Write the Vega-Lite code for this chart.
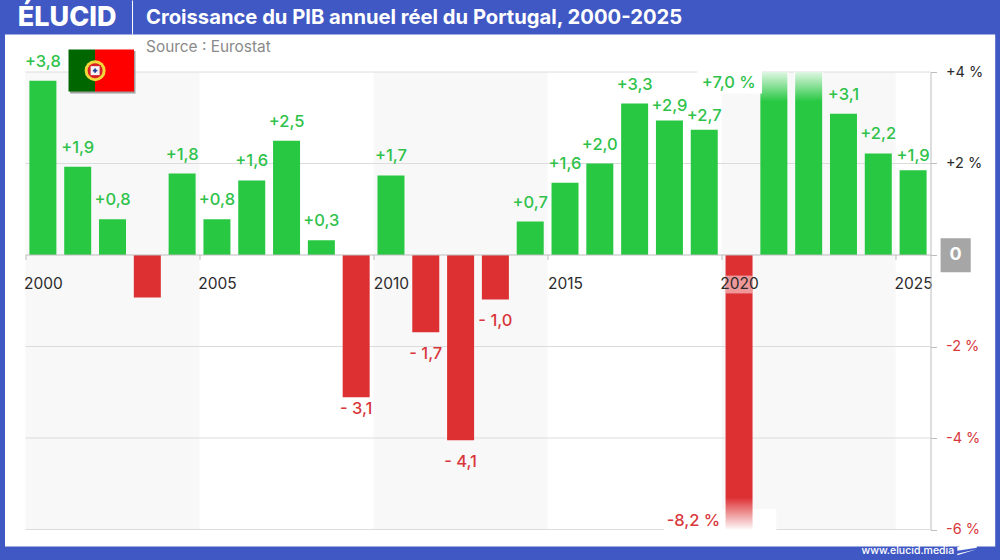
{
  "$schema": "https://vega.github.io/schema/vega-lite/v6.json",
  "description": "Croissance du PIB annuel reel du Portugal, 2000-2025",
  "width": 905,
  "height": 457.5,
  "autosize": "none",
  "padding": {"left": 25.5, "top": 72, "right": 69.5, "bottom": 30.5},
  "background": "#3f58c4",
  "resolve": {"axis": {"x": "independent", "y": "independent"}},
  "datasets": {
    "gdp": [
      {"year": 2000, "growth": 3.81, "label": "+3,8"},
      {"year": 2001, "growth": 1.93, "label": "+1,9"},
      {"year": 2002, "growth": 0.78, "label": "+0,8"},
      {"year": 2003, "growth": -0.93, "label": ""},
      {"year": 2004, "growth": 1.78, "label": "+1,8"},
      {"year": 2005, "growth": 0.78, "label": "+0,8"},
      {"year": 2006, "growth": 1.63, "label": "+1,6"},
      {"year": 2007, "growth": 2.5, "label": "+2,5"},
      {"year": 2008, "growth": 0.32, "label": "+0,3"},
      {"year": 2009, "growth": -3.11, "label": "- 3,1"},
      {"year": 2010, "growth": 1.74, "label": "+1,7"},
      {"year": 2011, "growth": -1.69, "label": "- 1,7"},
      {"year": 2012, "growth": -4.05, "label": "- 4,1"},
      {"year": 2013, "growth": -0.97, "label": "- 1,0"},
      {"year": 2014, "growth": 0.73, "label": "+0,7"},
      {"year": 2015, "growth": 1.58, "label": "+1,6"},
      {"year": 2016, "growth": 2.0, "label": "+2,0"},
      {"year": 2017, "growth": 3.31, "label": "+3,3"},
      {"year": 2018, "growth": 2.94, "label": "+2,9"},
      {"year": 2019, "growth": 2.74, "label": "+2,7"},
      {"year": 2020, "growth": -8.2, "label": ""},
      {"year": 2021, "growth": 5.6, "label": ""},
      {"year": 2022, "growth": 7.0, "label": ""},
      {"year": 2023, "growth": 3.09, "label": "+3,1"},
      {"year": 2024, "growth": 2.22, "label": "+2,2"},
      {"year": 2025, "growth": 1.85, "label": "+1,9"}
    ]
  },
  "layer": [
    {
      "data": {"values": [{"x0": 1999.411, "x1": 2027.859, "y0": -6.372, "y1": 4.82}]},
      "mark": {"type": "rect", "color": "white"},
      "encoding": {
        "x": {"field": "x0", "type": "quantitative", "scale": {"domain": [2000, 2026], "nice": false, "zero": false, "padding": 0}, "axis": null},
        "x2": {"field": "x1"},
        "y": {"field": "y0", "type": "quantitative", "scale": {"domain": [-6, 4], "nice": false, "zero": false, "padding": 0}, "axis": null},
        "y2": {"field": "y1"}
      }
    },
    {
      "data": {"values": [{"from": 2000, "to": 2005, "low": -6, "high": 4}, {"from": 2010, "to": 2015, "low": -6, "high": 4}, {"from": 2020, "to": 2025, "low": -6, "high": 4}]},
      "mark": {"type": "rect", "color": "#f8f8f8"},
      "encoding": {
        "x": {"field": "from", "type": "quantitative", "axis": null},
        "x2": {"field": "to"},
        "y": {"field": "low", "type": "quantitative", "axis": null},
        "y2": {"field": "high"}
      }
    },
    {
      "data": {"values": [{"tick": -6}, {"tick": -4}, {"tick": -2}, {"tick": 2}, {"tick": 4}]},
      "mark": {"type": "rule", "color": "#dcdcdc", "strokeWidth": 1},
      "encoding": {"y": {"field": "tick", "type": "quantitative", "axis": null}}
    },
    {
      "data": {"values": [{"x0": 2018.35, "x1": 2021.57, "y0": -6.05, "y1": -5.55}]},
      "mark": {"type": "rect", "color": "white"},
      "encoding": {
        "x": {"field": "x0", "type": "quantitative", "axis": null},
        "x2": {"field": "x1"},
        "y": {"field": "y0", "type": "quantitative", "axis": null},
        "y2": {"field": "y1"}
      }
    },
    {
      "data": {"name": "gdp"},
      "mark": {"type": "bar", "orient": "vertical", "width": 27, "xOffset": 17.4, "clip": true},
      "encoding": {
        "x": {
          "field": "year",
          "type": "quantitative",
          "axis": {
            "orient": "bottom",
            "offset": -275,
            "title": null,
            "grid": false,
            "values": [2000, 2005, 2010, 2015, 2020, 2025],
            "format": "d",
            "labelOffset": 17.4,
            "labelFlush": false,
            "labelOverlap": false,
            "labelPadding": 17,
            "labelFont": "Inter",
            "labelFontSize": 15.5,
            "labelColor": "#2b2b2b",
            "domainColor": "#bdbdbd",
            "tickColor": "#bdbdbd",
            "tickSize": 5,
            "zindex": 1
          }
        },
        "y": {
          "field": "growth",
          "type": "quantitative",
          "axis": {
            "orient": "right",
            "title": null,
            "grid": false,
            "values": [-6, -4, -2, 0, 2, 4],
            "labelExpr": "datum.value == 0 ? '' : (datum.value > 0 ? '+' : '') + datum.value + ' %'",
            "labelPadding": 9,
            "labelFlush": false,
            "labelOverlap": false,
            "labelFont": "Inter",
            "labelFontSize": 14.5,
            "labelColor": {"condition": {"test": "datum.value < 0", "value": "#d8383c"}, "value": "#2b2b2b"},
            "domainColor": "#bdbdbd",
            "tickColor": "#bdbdbd",
            "tickSize": 6,
            "zindex": 1
          }
        },
        "color": {"condition": {"test": "datum.growth < 0", "value": "#dd3033"}, "value": "#28c843"}
      }
    },
    {
      "data": {"values": [{"year": 2020, "low": -0.84, "high": -0.45}]},
      "mark": {"type": "bar", "orient": "vertical", "width": 27, "xOffset": 17.4, "color": "white", "opacity": 0.5},
      "encoding": {
        "x": {"field": "year", "type": "quantitative", "axis": null},
        "y": {"field": "low", "type": "quantitative", "axis": null},
        "y2": {"field": "high"}
      }
    },
    {
      "data": {"values": [{"year": 2021, "low": 3.355, "high": 4}, {"year": 2022, "low": 3.355, "high": 4}]},
      "mark": {
        "type": "bar",
        "orient": "vertical",
        "width": 29,
        "xOffset": 17.4,
        "color": {"gradient": "linear", "x1": 0, "y1": 0, "x2": 0, "y2": 1, "stops": [{"offset": 0, "color": "rgba(255,255,255,0.85)"}, {"offset": 1, "color": "rgba(255,255,255,0)"}]}
      },
      "encoding": {
        "x": {"field": "year", "type": "quantitative", "axis": null},
        "y": {"field": "low", "type": "quantitative", "axis": null},
        "y2": {"field": "high"}
      }
    },
    {
      "data": {"values": [{"year": 2020, "low": -6.02, "high": -5.3}]},
      "mark": {
        "type": "bar",
        "orient": "vertical",
        "width": 29,
        "xOffset": 17.4,
        "color": {"gradient": "linear", "x1": 0, "y1": 0, "x2": 0, "y2": 1, "stops": [{"offset": 0, "color": "rgba(255,255,255,0)"}, {"offset": 1, "color": "rgba(255,255,255,1)"}]}
      },
      "encoding": {
        "x": {"field": "year", "type": "quantitative", "axis": null},
        "y": {"field": "low", "type": "quantitative", "axis": null},
        "y2": {"field": "high"}
      }
    },
    {
      "data": {"values": [{"x0": 2019.3, "x1": 2021.16, "y0": 3.53, "y1": 4.03}]},
      "mark": {"type": "rect", "color": "white"},
      "encoding": {
        "x": {"field": "x0", "type": "quantitative", "axis": null},
        "x2": {"field": "x1"},
        "y": {"field": "y0", "type": "quantitative", "axis": null},
        "y2": {"field": "y1"}
      }
    },
    {
      "data": {"name": "gdp"},
      "transform": [{"filter": "datum.growth > 0 && datum.year != 2018 && datum.year != 2019 && datum.year != 2025"}],
      "mark": {"type": "text", "font": "Inter", "fontSize": 16.5, "fontWeight": 500, "color": "#2fc24a", "dx": 17.4, "dy": -19, "baseline": "middle"},
      "encoding": {
        "x": {"field": "year", "type": "quantitative", "axis": null},
        "y": {"field": "growth", "type": "quantitative", "axis": null},
        "text": {"field": "label"}
      }
    },
    {
      "data": {"name": "gdp"},
      "transform": [{"filter": "datum.year == 2018 || datum.year == 2019 || datum.year == 2025"}],
      "mark": {"type": "text", "font": "Inter", "fontSize": 16.5, "fontWeight": 500, "color": "#2fc24a", "dx": 17.4, "dy": -14, "baseline": "middle"},
      "encoding": {
        "x": {"field": "year", "type": "quantitative", "axis": null},
        "y": {"field": "growth", "type": "quantitative", "axis": null},
        "text": {"field": "label"}
      }
    },
    {
      "data": {"name": "gdp"},
      "transform": [{"filter": "datum.growth < 0 && datum.year != 2009"}],
      "mark": {"type": "text", "font": "Inter", "fontSize": 16.5, "fontWeight": 500, "color": "#d8383c", "dx": 17.4, "dy": 22, "baseline": "middle"},
      "encoding": {
        "x": {"field": "year", "type": "quantitative", "axis": null},
        "y": {"field": "growth", "type": "quantitative", "axis": null},
        "text": {"field": "label"}
      }
    },
    {
      "data": {"name": "gdp"},
      "transform": [{"filter": "datum.year == 2009"}],
      "mark": {"type": "text", "font": "Inter", "fontSize": 16.5, "fontWeight": 500, "color": "#d8383c", "dx": 17.4, "dy": 12, "baseline": "middle"},
      "encoding": {
        "x": {"field": "year", "type": "quantitative", "axis": null},
        "y": {"field": "growth", "type": "quantitative", "axis": null},
        "text": {"field": "label"}
      }
    },
    {
      "data": {"values": [{"year": 2020.98, "at": 3.75, "note": "+7,0 %"}]},
      "mark": {"type": "text", "font": "Inter", "fontSize": 16.5, "fontWeight": 500, "color": "#2fc24a", "align": "right", "baseline": "middle"},
      "encoding": {
        "x": {"field": "year", "type": "quantitative", "axis": null},
        "y": {"field": "at", "type": "quantitative", "axis": null},
        "text": {"field": "note"}
      }
    },
    {
      "data": {"values": [{"year": 2019.96, "at": -5.82, "note": "-8,2 %"}]},
      "mark": {"type": "text", "font": "Inter", "fontSize": 16.5, "fontWeight": 500, "color": "#d8383c", "align": "right", "baseline": "middle"},
      "encoding": {
        "x": {"field": "year", "type": "quantitative", "axis": null},
        "y": {"field": "at", "type": "quantitative", "axis": null},
        "text": {"field": "note"}
      }
    },
    {
      "data": {"values": [{"x0": 2026.29, "x1": 2027.156, "y0": -0.377, "y1": 0.367}]},
      "mark": {"type": "rect", "color": "#a6a6a6"},
      "encoding": {
        "x": {"field": "x0", "type": "quantitative", "axis": null},
        "x2": {"field": "x1"},
        "y": {"field": "y0", "type": "quantitative", "axis": null},
        "y2": {"field": "y1"}
      }
    },
    {
      "data": {"values": [{"x": 2026.72, "y": 0, "zero": "0"}]},
      "mark": {"type": "text", "font": "Inter", "fontSize": 18, "fontWeight": 700, "color": "white", "baseline": "middle"},
      "encoding": {
        "x": {"field": "x", "type": "quantitative", "axis": null},
        "y": {"field": "y", "type": "quantitative", "axis": null},
        "text": {"field": "zero"}
      }
    },
    {
      "data": {"values": [{"x": 2003.463, "y": 4.536, "source": "Source : Eurostat"}]},
      "mark": {"type": "text", "font": "Inter", "fontSize": 15.4, "color": "#8a8a8a", "align": "left", "baseline": "middle"},
      "encoding": {
        "x": {"field": "x", "type": "quantitative", "axis": null},
        "y": {"field": "y", "type": "quantitative", "axis": null},
        "text": {"field": "source"}
      }
    },
    {
      "data": {"values": [{"x0": 2001.28, "x1": 2003.16, "y0": 3.53, "y1": 4.46}]},
      "mark": {"type": "rect", "color": "#7a7a7a", "opacity": 0.7},
      "encoding": {
        "x": {"field": "x0", "type": "quantitative", "axis": null},
        "x2": {"field": "x1"},
        "y": {"field": "y0", "type": "quantitative", "axis": null},
        "y2": {"field": "y1"}
      }
    },
    {
      "data": {"values": [{"x0": 2001.236, "x1": 2001.997, "y0": 3.574, "y1": 4.492}]},
      "mark": {"type": "rect", "color": "#006600"},
      "encoding": {
        "x": {"field": "x0", "type": "quantitative", "axis": null},
        "x2": {"field": "x1"},
        "y": {"field": "y0", "type": "quantitative", "axis": null},
        "y2": {"field": "y1"}
      }
    },
    {
      "data": {"values": [{"x0": 2001.997, "x1": 2003.118, "y0": 3.574, "y1": 4.492}]},
      "mark": {"type": "rect", "color": "#ff0000"},
      "encoding": {
        "x": {"field": "x0", "type": "quantitative", "axis": null},
        "x2": {"field": "x1"},
        "y": {"field": "y0", "type": "quantitative", "axis": null},
        "y2": {"field": "y1"}
      }
    },
    {
      "data": {"values": [{"x": 2002, "y": 4.03}]},
      "mark": {"type": "point", "shape": "circle", "filled": true, "size": 441, "color": "#f2d83a", "opacity": 1},
      "encoding": {
        "x": {"field": "x", "type": "quantitative", "axis": null},
        "y": {"field": "y", "type": "quantitative", "axis": null}
      }
    },
    {
      "data": {"values": [{"x": 2002, "y": 4.03}]},
      "mark": {"type": "point", "shape": "circle", "filled": true, "size": 225, "color": "#d8202a", "opacity": 1},
      "encoding": {
        "x": {"field": "x", "type": "quantitative", "axis": null},
        "y": {"field": "y", "type": "quantitative", "axis": null}
      }
    },
    {
      "data": {"values": [{"x": 2002, "y": 4.03}]},
      "mark": {"type": "point", "shape": "square", "filled": true, "size": 81, "color": "#f4f4f4", "opacity": 1},
      "encoding": {
        "x": {"field": "x", "type": "quantitative", "axis": null},
        "y": {"field": "y", "type": "quantitative", "axis": null}
      }
    },
    {
      "data": {"values": [{"x": 2002, "y": 4.03}]},
      "mark": {"type": "point", "shape": "cross", "filled": true, "size": 20, "color": "#2a3f9a", "opacity": 1},
      "encoding": {
        "x": {"field": "x", "type": "quantitative", "axis": null},
        "y": {"field": "y", "type": "quantitative", "axis": null}
      }
    },
    {
      "data": {"values": [{"x": 1999.78, "y": 5.17, "logo": "ÉLUCID"}]},
      "mark": {"type": "text", "font": "Inter", "fontSize": 27, "fontWeight": 800, "color": "white", "align": "left", "baseline": "middle"},
      "encoding": {
        "x": {"field": "x", "type": "quantitative", "axis": null},
        "y": {"field": "y", "type": "quantitative", "axis": null},
        "text": {"field": "logo"}
      }
    },
    {
      "data": {"values": [{"x": 2003.075, "y0": 4.82, "y1": 5.563}]},
      "mark": {"type": "rule", "color": "white", "strokeWidth": 1},
      "encoding": {
        "x": {"field": "x", "type": "quantitative", "axis": null},
        "y": {"field": "y0", "type": "quantitative", "axis": null},
        "y2": {"field": "y1"}
      }
    },
    {
      "data": {"values": [{"x": 2003.463, "y": 5.17, "headline": "Croissance du PIB annuel réel du Portugal, 2000-2025"}]},
      "mark": {"type": "text", "font": "Inter", "fontSize": 20.2, "fontWeight": 700, "color": "white", "align": "left", "baseline": "middle"},
      "encoding": {
        "x": {"field": "x", "type": "quantitative", "axis": null},
        "y": {"field": "y", "type": "quantitative", "axis": null},
        "text": {"field": "headline"}
      }
    },
    {
      "data": {"values": [{"x": 2026.68, "y": -6.48, "site": "www.elucid.media"}]},
      "mark": {"type": "text", "font": "Inter", "fontSize": 10.5, "fontWeight": 500, "color": "white", "align": "right", "baseline": "middle"},
      "encoding": {
        "x": {"field": "x", "type": "quantitative", "axis": null},
        "y": {"field": "y", "type": "quantitative", "axis": null},
        "text": {"field": "site"}
      }
    },
    {
      "data": {"values": [{"x": 2027.05, "y": -6.39}]},
      "mark": {"type": "point", "filled": true, "opacity": 1, "color": "white", "size": 380, "shape": "M-1,0 L1,-0.8 L1,0.05 L-1,0.35 Z M-1,0.65 L1,0.2 L-1,0.8 Z"},
      "encoding": {
        "x": {"field": "x", "type": "quantitative", "axis": null},
        "y": {"field": "y", "type": "quantitative", "axis": null}
      }
    }
  ]
}
